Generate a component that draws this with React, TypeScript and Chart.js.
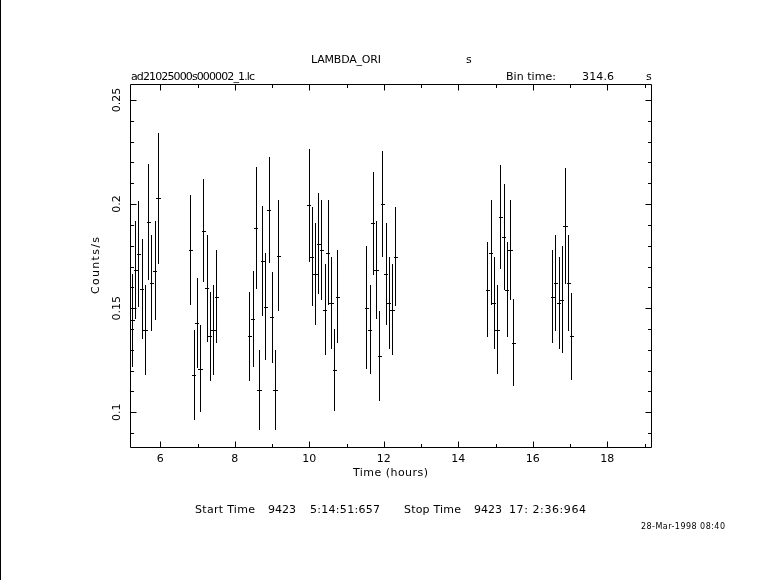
import React, { useEffect, useRef } from 'react';
import { Chart, registerables } from 'chart.js';

Chart.register(...registerables);

// ---- data (hours, counts/s, 1-sigma error) ----
const timeHours = [
  5.240, 5.327, 5.415, 5.502, 5.589, 5.677, 5.764, 5.851, 5.939,
  6.805, 6.892, 6.980, 7.067, 7.154, 7.241, 7.329, 7.416, 7.503,
  8.389, 8.476, 8.562, 8.649, 8.735, 8.822, 8.908, 8.995, 9.082, 9.168,
  9.984, 10.069, 10.155, 10.240, 10.325, 10.411, 10.496, 10.581, 10.667, 10.752,
  11.530, 11.617, 11.703, 11.790, 11.876, 11.963, 12.049, 12.136, 12.222, 12.309,
  14.779, 14.866, 14.954, 15.041, 15.128, 15.215, 15.303, 15.390, 15.477,
  16.523, 16.608, 16.693, 16.779, 16.864, 16.949, 17.034,
];
const countRate = [
  0.1441, 0.1682, 0.1760, 0.1590, 0.1395, 0.1913, 0.1620, 0.1680, 0.2027,
  0.1780, 0.1181, 0.1428, 0.1210, 0.1873, 0.1595, 0.1364, 0.1395, 0.1555,
  0.1364, 0.1448, 0.1884, 0.1109, 0.1725, 0.1508, 0.1970, 0.1457, 0.1109, 0.1752,
  0.1994, 0.1748, 0.1663, 0.1810, 0.1779, 0.1492, 0.1767, 0.1524, 0.1205, 0.1555,
  0.1502, 0.1396, 0.1907, 0.1683, 0.1270, 0.2000, 0.1663, 0.1524, 0.1492, 0.1748,
  0.1589, 0.1767, 0.1524, 0.1396, 0.1938, 0.1842, 0.1589, 0.1779, 0.1333,
  0.1555, 0.1620, 0.1524, 0.1540, 0.1895, 0.1620, 0.1364,
];
const rateError = [
  0.0222, 0.0236, 0.0255, 0.0240, 0.0215, 0.0280, 0.0230, 0.0237, 0.0316,
  0.0263, 0.0216, 0.0217, 0.0207, 0.0247, 0.0256, 0.0212, 0.0215, 0.0223,
  0.0212, 0.0229, 0.0294, 0.0192, 0.0265, 0.0256, 0.0254, 0.0219, 0.0192, 0.0268,
  0.0271, 0.0238, 0.0245, 0.0243, 0.0240, 0.0218, 0.0252, 0.0221, 0.0197, 0.0223,
  0.0296, 0.0214, 0.0247, 0.0235, 0.0214, 0.0256, 0.0245, 0.0221, 0.0218, 0.0238,
  0.0228, 0.0252, 0.0221, 0.0214, 0.0250, 0.0255, 0.0228, 0.0240, 0.0209,
  0.0223, 0.0230, 0.0221, 0.0257, 0.0278, 0.0230, 0.0211,
];
const binTimeSec = 314.6;

// ---- axes ----
const xRange = [5.187, 19.173];
const yRange = [0.0833, 0.2577];
const xMajorTicks = [6, 8, 10, 12, 14, 16, 18];
const xTickLabels = ['6', '8', '10', '12', '14', '16', '18'];
const xMinorTicks = [7, 9, 11, 13, 15, 17, 19];
const yMajorTicks = [0.1, 0.15, 0.2, 0.25];
const yTickLabels = ['0.1', '0.15', '0.2', '0.25'];
const yMinorTicks = [0.09, 0.11, 0.12, 0.13, 0.14, 0.16, 0.17, 0.18, 0.19, 0.21, 0.22, 0.23, 0.24];

// ---- texts ----
const titleText = 'LAMBDA_ORI';
const titleUnit = 's';
const fileName = 'ad21025000s000002_1.lc';
const binLabel = 'Bin time:';
const binValue = '314.6';
const binUnit = 's';
const xTitle = 'Time (hours)';
const yTitle = 'Counts/s';
const footerParts = ['Start Time', '9423', '5:14:51:657', 'Stop Time', '9423', '17: 2:36:964'];
const dateStamp = '28-Mar-1998 08:40';

const FONT = '11px "DejaVu Sans", sans-serif';
const SMALL_FONT = '8px "DejaVu Sans", sans-serif';

function drawText(
  ctx: CanvasRenderingContext2D,
  str: string,
  x: number,
  y: number,
  font: string,
  width: number | null,
  align: 'left' | 'center',
  rotate = false,
) {
  ctx.save();
  ctx.font = font;
  ctx.fillStyle = '#000';
  ctx.textAlign = 'left';
  ctx.textBaseline = rotate ? 'middle' : 'alphabetic';
  const natural = ctx.measureText(str).width;
  let spacing = 0;
  if (width != null && str.length > 1) spacing = (width - natural) / (str.length - 1);
  const total = natural + spacing * (str.length - 1);
  ctx.translate(x, y);
  if (rotate) ctx.rotate(-Math.PI / 2);
  const start = align === 'center' ? -total / 2 : 0;
  const anyCtx = ctx as any;
  if ('letterSpacing' in anyCtx) {
    anyCtx.letterSpacing = spacing + 'px';
    ctx.fillText(str, start, 0);
  } else {
    let cx = start;
    for (const ch of str) {
      ctx.fillText(ch, cx, 0);
      cx += ctx.measureText(ch).width + spacing;
    }
  }
  ctx.restore();
}

const framePlugin = {
  id: 'xronosFrame',
  beforeDraw(chart: any) {
    const ctx = chart.ctx as CanvasRenderingContext2D;
    ctx.save();
    ctx.fillStyle = '#fff';
    ctx.fillRect(0, 0, chart.width, chart.height);
    ctx.restore();
  },
  afterDraw(chart: any) {
    const ctx = chart.ctx as CanvasRenderingContext2D;
    const { left, right, top, bottom } = chart.chartArea;
    const xs = chart.scales.x;
    const ys = chart.scales.y;
    ctx.save();
    ctx.strokeStyle = '#000';
    ctx.lineWidth = 1;
    ctx.beginPath();
    ctx.rect(left + 0.5, top + 0.5, right - left, bottom - top);
    const MAJ = 6;
    const MIN = 3.5;
    const xTick = (v: number, len: number) => {
      const px = Math.round(xs.getPixelForValue(v)) + 0.5;
      ctx.moveTo(px, bottom + 0.5);
      ctx.lineTo(px, bottom + 0.5 - len);
      ctx.moveTo(px, top + 0.5);
      ctx.lineTo(px, top + 0.5 + len);
    };
    const yTick = (v: number, len: number) => {
      const py = Math.round(ys.getPixelForValue(v)) + 0.5;
      ctx.moveTo(left + 0.5, py);
      ctx.lineTo(left + 0.5 + len, py);
      ctx.moveTo(right + 0.5, py);
      ctx.lineTo(right + 0.5 - len, py);
    };
    xMajorTicks.forEach((v) => xTick(v, MAJ));
    xMinorTicks.forEach((v) => xTick(v, MIN));
    yMajorTicks.forEach((v) => yTick(v, MAJ));
    yMinorTicks.forEach((v) => yTick(v, MIN));
    ctx.stroke();
    // left page border line
    ctx.fillStyle = '#000';
    ctx.fillRect(0, 0, 1, chart.height);
    ctx.restore();

    // tick labels
    xMajorTicks.forEach((v, i) => {
      drawText(ctx, xTickLabels[i], xs.getPixelForValue(v), bottom + 15, FONT, null, 'center');
    });
    yMajorTicks.forEach((v, i) => {
      drawText(ctx, yTickLabels[i], left - 13, ys.getPixelForValue(v), FONT, null, 'center', true);
    });

    // axis titles
    drawText(ctx, xTitle, (left + right) / 2, bottom + 29, FONT, 75, 'center');
    drawText(ctx, yTitle, left - 34, (top + bottom) / 2, FONT, 57, 'center', true);

    // header
    drawText(ctx, titleText, 311, 63, FONT, 70, 'left');
    drawText(ctx, titleUnit, 466, 63, FONT, null, 'left');
    drawText(ctx, fileName, 131, 80, FONT, 124, 'left');
    drawText(ctx, binLabel, 506, 80, FONT, 50, 'left');
    drawText(ctx, binValue, 582, 80, FONT, 32, 'left');
    drawText(ctx, binUnit, 646, 80, FONT, null, 'left');

    // footer
    const footerX = [195, 268, 310, 404, 474, 509];
    const footerW = [60, null, 70, 57, null, 77];
    footerParts.forEach((s, i) => drawText(ctx, s, footerX[i], 513, FONT, footerW[i], 'left'));
    drawText(ctx, dateStamp, 641, 529, SMALL_FONT, 84, 'left');
  },
};

const errorBarPlugin = {
  id: 'errorBars',
  afterDatasetsDraw(chart: any) {
    const ctx = chart.ctx as CanvasRenderingContext2D;
    const xs = chart.scales.x;
    const ys = chart.scales.y;
    const half = binTimeSec / 3600 / 2;
    ctx.save();
    ctx.strokeStyle = '#000';
    ctx.lineWidth = 1;
    ctx.beginPath();
    timeHours.forEach((t, i) => {
      const v = countRate[i];
      const e = rateError[i];
      const px = Math.round(xs.getPixelForValue(t)) + 0.5;
      const yTop = Math.round(ys.getPixelForValue(v + e));
      const yBot = Math.round(ys.getPixelForValue(v - e));
      const yc = Math.round(ys.getPixelForValue(v)) + 0.5;
      ctx.moveTo(px, yTop);
      ctx.lineTo(px, yBot);
      ctx.moveTo(Math.round(xs.getPixelForValue(t - half)), yc);
      ctx.lineTo(Math.round(xs.getPixelForValue(t + half)) + 1, yc);
    });
    ctx.stroke();
    ctx.restore();
  },
};

export default function App() {
  const canvasRef = useRef<HTMLCanvasElement | null>(null);

  useEffect(() => {
    const canvas = canvasRef.current;
    if (!canvas) return;
    const chart = new Chart(canvas, {
      type: 'scatter',
      data: {
        datasets: [
          {
            label: 'Counts/s',
            data: timeHours.map((t, i) => ({ x: t, y: countRate[i] })),
            pointRadius: 0,
            showLine: false,
            borderColor: '#000',
            backgroundColor: '#000',
          },
        ],
      },
      options: {
        responsive: false,
        animation: false,
        devicePixelRatio: 1,
        events: [],
        layout: { padding: { left: 130, right: 130, top: 84, bottom: 133 } },
        plugins: {
          legend: { display: false },
          tooltip: { enabled: false },
          title: { display: false },
        },
        scales: {
          x: { type: 'linear', min: xRange[0], max: xRange[1], display: false },
          y: { type: 'linear', min: yRange[0], max: yRange[1], display: false },
        },
      },
      plugins: [framePlugin, errorBarPlugin],
    });
    return () => chart.destroy();
  }, []);

  return (
    <div style={{ position: 'fixed', left: 0, top: 0, width: 781, height: 580, background: '#fff' }}>
      <canvas ref={canvasRef} width={781} height={580} style={{ width: 781, height: 580, display: 'block' }} />
    </div>
  );
}
